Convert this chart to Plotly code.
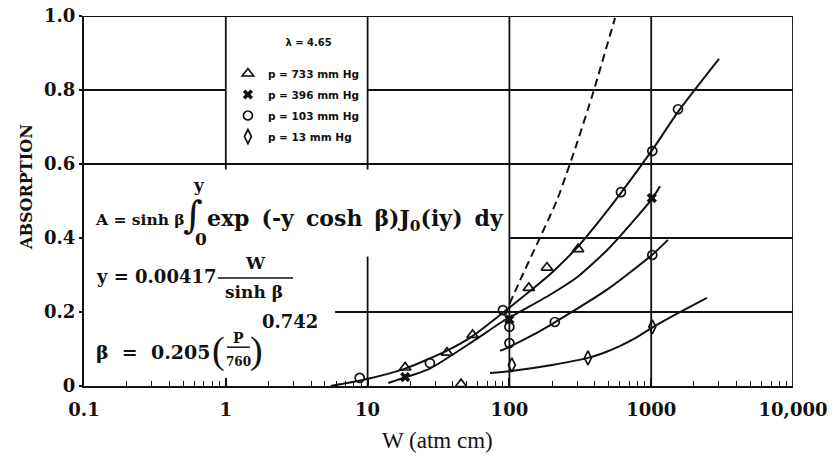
import plotly.graph_objects as go

# ---------------- data ----------------
# measured points, W in atm cm, A = absorption
tri_w = [18.4, 36.3, 45.6, 55, 137, 184, 305]
tri_a = [0.050, 0.090, 0.005, 0.138, 0.265, 0.320, 0.370]
x_w = [18.4, 100, 1010]
x_a = [0.024, 0.180, 0.508]
circ_w = [8.8, 27.5, 90, 100, 100, 209, 612, 1018, 1018, 1545]
circ_a = [0.022, 0.062, 0.205, 0.160, 0.116, 0.173, 0.524, 0.635, 0.354, 0.748]
dia_w = [104, 358, 1018]
dia_a = [0.057, 0.076, 0.160]

# fitted curves
c733_w = [5.5, 9.2, 18.4, 36, 55, 90, 137, 200, 305, 436, 612, 1018, 1545, 3006]
c733_a = [0.0, 0.016, 0.047, 0.095, 0.135, 0.198, 0.254, 0.307, 0.377, 0.449, 0.522, 0.638, 0.741, 0.884]
c396_w = [14, 16.1, 27.5, 55, 90, 130, 200, 300, 500, 1010, 1154]
c396_a = [0.008, 0.016, 0.047, 0.120, 0.175, 0.209, 0.250, 0.294, 0.371, 0.505, 0.540]
c103_w = [86, 100, 150, 209, 500, 1018, 1313]
c103_a = [0.095, 0.106, 0.140, 0.172, 0.263, 0.355, 0.395]
c13_w = [73, 100, 200, 358, 450, 600, 800, 1018, 1500, 2470]
c13_a = [0.035, 0.040, 0.057, 0.076, 0.088, 0.108, 0.133, 0.158, 0.194, 0.238]
dash_w = [92, 119, 217, 300, 389, 556]
dash_a = [0.190, 0.286, 0.503, 0.657, 0.792, 0.995]

series_names = ["p = 733 mm Hg", "p = 396 mm Hg", "p = 103 mm Hg", "p = 13 mm Hg"]
legend_title = "λ = 4.65"

x_tickvals = [0.1, 1, 10, 100, 1000, 10000]
x_ticktext = ["0.1", "1", "10", "100", "1000", "10,000"]
y_tickvals = [0, 0.2, 0.4, 0.6, 0.8, 1.0]
y_ticktext = ["0", "0.2", "0.4", "0.6", "0.8", "1.0"]

# ---------------- figure ----------------
BLACK = "#111111"
NB = "\u00a0"
TH = "\u2009"
fig = go.Figure()

for w, a in [(c733_w, c733_a), (c396_w, c396_a), (c103_w, c103_a), (c13_w, c13_a)]:
    fig.add_trace(go.Scatter(x=w, y=a, mode="lines", showlegend=False, hoverinfo="skip",
                             line=dict(color=BLACK, width=2, shape="spline", smoothing=0.6)))
fig.add_trace(go.Scatter(x=dash_w, y=dash_a, mode="lines", showlegend=False, hoverinfo="skip",
                         line=dict(color=BLACK, width=2, dash="8px,5px", shape="spline", smoothing=0.5)))

open_line = dict(color=BLACK, width=1.7)
fig.add_trace(go.Scatter(x=tri_w, y=tri_a, mode="markers", name=series_names[0], legendgroup="a",
                         marker=dict(symbol="triangle-up-open", size=10, color=BLACK, line=open_line)))
fig.add_trace(go.Scatter(x=x_w, y=x_a, mode="markers", name=series_names[1], legendgroup="b",
                         marker=dict(symbol="x", size=9, color=BLACK, line=dict(width=0))))
fig.add_trace(go.Scatter(x=circ_w, y=circ_a, mode="markers", name=series_names[2], legendgroup="c",
                         marker=dict(symbol="circle-open", size=9, color=BLACK, line=open_line)))
fig.add_trace(go.Scatter(x=dia_w, y=dia_a, mode="markers", name=series_names[3], legendgroup="d",
                         marker=dict(symbol="diamond-tall-open", size=10, color=BLACK, line=open_line)))

# partial grid / frame lines (scanned-chart style); shapes use raw W values
lw = 1.8
segs = [
    ("h", 1.0, 0.1, 10000), ("h", 0.8, 0.1, 1), ("h", 0.8, 10, 10000),
    ("h", 0.6, 0.1, 10000), ("h", 0.4, 100, 10000), ("h", 0.2, 5.9, 10000),
    ("v", 10000, 0, 1), ("v", 1, 0.585, 1), ("v", 10, 0.585, 1), ("v", 10, 0, 0.35),
    ("v", 100, 0, 1), ("v", 1000, 0, 1),
]
shapes = []
for kind, p, a0, a1 in segs:
    if kind == "h":
        shapes.append(dict(type="line", xref="x", yref="y", x0=a0, x1=a1, y0=p, y1=p,
                           line=dict(color=BLACK, width=lw)))
    else:
        shapes.append(dict(type="line", xref="x", yref="y", x0=p, x1=p, y0=a0, y1=a1,
                           line=dict(color=BLACK, width=lw)))

SERIF = "DejaVu Serif"
def F(size, bold=True, family=SERIF):
    d = dict(family=family, size=size, color=BLACK)
    if bold:
        d["weight"] = "bold"
    return d

ann = []
def A(x, y, text, font, xanchor="left", yanchor="middle"):
    # annotation x on a log axis is given as log10(W)
    ann.append(dict(x=x, y=y, xref="x", yref="y", text=text, showarrow=False,
                    xanchor=xanchor, yanchor=yanchor, font=font))

# formula 1
A(-0.935, 0.449, "A = sinh β", F(15.5))
A(-0.228, 0.462, "∫", F(38, bold=False), xanchor="center")
A(-0.190, 0.543, "y", F(17), xanchor="center")
A(-0.172, 0.398, "0", F(17), xanchor="center")
A(-0.150, 0.449, "exp" + NB + TH + "(-y" + NB + TH + "cosh" + NB + TH + "β)J<sub>0</sub>(iy)" + NB + TH + "dy", F(22))
# formula 2
A(-0.93, 0.297, "y = 0.00417", F(18))
A(0.206, 0.332, "W", F(17), xanchor="center")
shapes.append(dict(type="line", xref="x", yref="y", x0=0.88, x1=2.98, y0=0.292, y1=0.292,
                   line=dict(color=BLACK, width=1.5)))
A(0.199, 0.255, "sinh β", F(17), xanchor="center")
# formula 3
A(-0.93, 0.092, "β" + NB * 2 + "=" + NB * 2 + "0.205", F(19))
A(-0.048, 0.095, "(", F(38, bold=False, family="Liberation Serif"), xanchor="center")
A(0.088, 0.131, "P", F(14), xanchor="center")
shapes.append(dict(type="line", xref="x", yref="y", x0=1.02, x1=1.48, y0=0.105, y1=0.105,
                   line=dict(color=BLACK, width=1.5)))
A(0.088, 0.064, "760", F(12), xanchor="center")
A(0.215, 0.095, ")", F(38, bold=False, family="Liberation Serif"), xanchor="center")
A(0.238, 0.173, "0.742", F(18))

# axis titles
ann.append(dict(xref="paper", yref="paper", x=0, y=0.538, xshift=-57, text="ABSORPTION",
                textangle=-90, showarrow=False, xanchor="center", yanchor="middle",
                font=F(16)))
ann.append(dict(xref="paper", yref="paper", x=0.499, y=0, yshift=-54, text="W (atm cm)",
                showarrow=False, xanchor="center", yanchor="middle",
                font=F(23, bold=False, family="Liberation Serif")))

minor_vals = [k * 10 ** d for d in range(-1, 4) for k in range(2, 10)]

# the page body adds an 8px offset, so the figure is 8px smaller and margins compensate
fig.update_layout(
    width=827, height=452,
    margin=dict(l=76, r=42, t=8, b=74, autoexpand=False),
    paper_bgcolor="white", plot_bgcolor="white",
    shapes=shapes, annotations=ann,
    showlegend=True,
    legend=dict(x=0.203, y=0.954, xanchor="left", yanchor="top", bgcolor="rgba(0,0,0,0)",
                font=dict(family="DejaVu Sans", size=10.5, color=BLACK, weight="bold"),
                title=dict(text=NB * 7 + legend_title + "<br>" + NB, side="top center",
                           font=dict(family="DejaVu Sans", size=10, color=BLACK, weight="bold")),
                itemwidth=30, tracegroupgap=2, traceorder="grouped"),
    xaxis=dict(type="log", range=[-1, 4], tickmode="array", tickvals=x_tickvals, ticktext=x_ticktext,
               ticks="inside", ticklen=8, tickwidth=1.5, tickcolor=BLACK, automargin=False,
               ticklabelstandoff=6, ticklabeloverflow="allow",
               showline=True, linecolor=BLACK, linewidth=2, showgrid=False, zeroline=False,
               tickfont=F(18),
               minor=dict(tickmode="array", tickvals=minor_vals, ticks="inside", ticklen=5,
                          tickwidth=1.2, tickcolor=BLACK, showgrid=False)),
    yaxis=dict(range=[0, 1], tickmode="array", tickvals=y_tickvals, ticktext=y_ticktext,
               ticks="outside", ticklen=3, tickwidth=1.5, tickcolor=BLACK, automargin=False,
               ticklabeloverflow="allow",
               showline=True, linecolor=BLACK, linewidth=2, showgrid=False, zeroline=False,
               tickfont=F(18)),
)

fig.write_html("out.html")
